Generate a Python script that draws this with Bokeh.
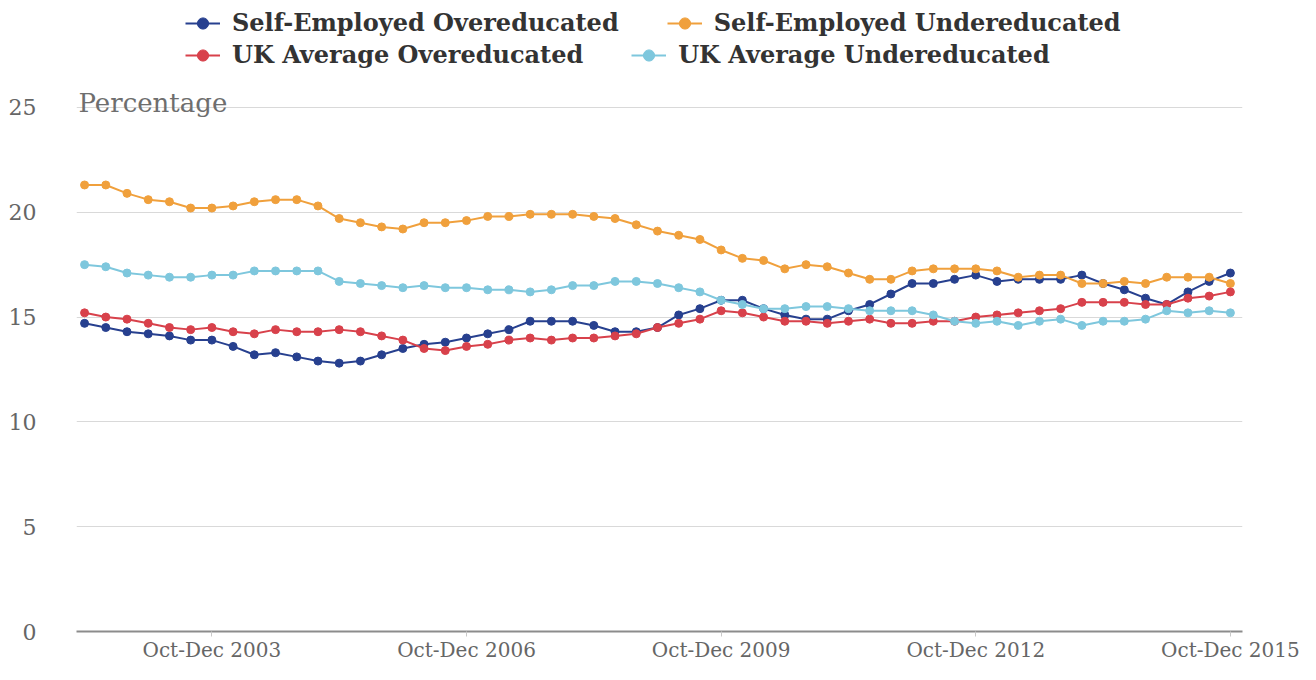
from bokeh.plotting import figure
from bokeh.models import Range1d, FixedTicker, Legend, LegendItem, Label
from bokeh.embed import file_html
from bokeh.resources import INLINE

# ---- data -------------------------------------------------------------
quarters = ["Apr-Jun 2002", "Jul-Sep 2002", "Oct-Dec 2002"] + [
    f"{q} {y}" for y in range(2003, 2016) for q in ["Jan-Mar", "Apr-Jun", "Jul-Sep", "Oct-Dec"]
]
tick_labels = ["Oct-Dec 2003", "Oct-Dec 2006", "Oct-Dec 2009", "Oct-Dec 2012", "Oct-Dec 2015"]
y_ticks = [0, 5, 10, 15, 20, 25]

se_over = [14.7, 14.5, 14.3, 14.2, 14.1, 13.9, 13.9, 13.6, 13.2, 13.3,
           13.1, 12.9, 12.8, 12.9, 13.2, 13.5, 13.7, 13.8, 14.0, 14.2,
           14.4, 14.8, 14.8, 14.8, 14.6, 14.3, 14.3, 14.5, 15.1, 15.4,
           15.8, 15.8, 15.4, 15.1, 14.9, 14.9, 15.3, 15.6, 16.1, 16.6,
           16.6, 16.8, 17.0, 16.7, 16.8, 16.8, 16.8, 17.0, 16.6, 16.3,
           15.9, 15.6, 16.2, 16.7, 17.1]
se_under = [21.3, 21.3, 20.9, 20.6, 20.5, 20.2, 20.2, 20.3, 20.5, 20.6,
            20.6, 20.3, 19.7, 19.5, 19.3, 19.2, 19.5, 19.5, 19.6, 19.8,
            19.8, 19.9, 19.9, 19.9, 19.8, 19.7, 19.4, 19.1, 18.9, 18.7,
            18.2, 17.8, 17.7, 17.3, 17.5, 17.4, 17.1, 16.8, 16.8, 17.2,
            17.3, 17.3, 17.3, 17.2, 16.9, 17.0, 17.0, 16.6, 16.6, 16.7,
            16.6, 16.9, 16.9, 16.9, 16.6]
uk_over = [15.2, 15.0, 14.9, 14.7, 14.5, 14.4, 14.5, 14.3, 14.2, 14.4,
           14.3, 14.3, 14.4, 14.3, 14.1, 13.9, 13.5, 13.4, 13.6, 13.7,
           13.9, 14.0, 13.9, 14.0, 14.0, 14.1, 14.2, 14.5, 14.7, 14.9,
           15.3, 15.2, 15.0, 14.8, 14.8, 14.7, 14.8, 14.9, 14.7, 14.7,
           14.8, 14.8, 15.0, 15.1, 15.2, 15.3, 15.4, 15.7, 15.7, 15.7,
           15.6, 15.6, 15.9, 16.0, 16.2]
uk_under = [17.5, 17.4, 17.1, 17.0, 16.9, 16.9, 17.0, 17.0, 17.2, 17.2,
            17.2, 17.2, 16.7, 16.6, 16.5, 16.4, 16.5, 16.4, 16.4, 16.3,
            16.3, 16.2, 16.3, 16.5, 16.5, 16.7, 16.7, 16.6, 16.4, 16.2,
            15.8, 15.6, 15.4, 15.4, 15.5, 15.5, 15.4, 15.3, 15.3, 15.3,
            15.1, 14.8, 14.7, 14.8, 14.6, 14.8, 14.9, 14.6, 14.8, 14.8,
            14.9, 15.3, 15.2, 15.3, 15.2]

series_names = ["Self-Employed Overeducated", "Self-Employed Undereducated",
                "UK Average Overeducated", "UK Average Undereducated"]
series_values = [se_over, se_under, uk_over, uk_under]
series_colors = ["#27408f", "#f0a03c", "#d8414b", "#7ec7dd"]

x = list(range(len(quarters)))
tick_pos = [quarters.index(t) for t in tick_labels]

# ---- figure -----------------------------------------------------------
p = figure(width=1300, height=664, output_backend="svg", toolbar_location=None,
           x_range=Range1d(-0.38, 54.57), y_range=Range1d(0, 30.1),
           min_border_left=76, min_border_right=58, min_border_top=0,
           min_border_bottom=30)
p.outline_line_color = None
p.background_fill_color = "white"
p.border_fill_color = "white"

p.xgrid.grid_line_color = None
p.ygrid.ticker = FixedTicker(ticks=y_ticks)
p.ygrid.grid_line_color = "#d9d9d9"
p.ygrid.grid_line_width = 1

tick_font = "DejaVu Serif"
p.yaxis.ticker = FixedTicker(ticks=y_ticks)
p.yaxis.axis_line_color = None
p.yaxis.major_tick_line_color = None
p.yaxis.minor_tick_line_color = None
p.yaxis.major_label_standoff = 34
p.yaxis.major_label_text_font = tick_font
p.yaxis.major_label_text_font_size = "22px"
p.yaxis.major_label_text_color = "#666666"

p.xaxis.ticker = FixedTicker(ticks=tick_pos)
p.xaxis.major_label_overrides = {pos: lab for pos, lab in zip(tick_pos, tick_labels)}
p.xaxis.axis_line_color = "#8c8c8c"
p.xaxis.axis_line_width = 2
p.xaxis.major_tick_line_color = "#c8c8c8"
p.xaxis.major_tick_out = 5
p.xaxis.major_tick_in = 0
p.xaxis.minor_tick_line_color = None
p.xaxis.major_label_standoff = 1
p.xaxis.major_label_text_font = tick_font
p.xaxis.major_label_text_font_size = "20px"
p.xaxis.major_label_text_color = "#666666"

items = []
for name, vals, col in zip(series_names, series_values, series_colors):
    ln = p.line(x, vals, line_color=col, line_width=2)
    sc = p.scatter(x, vals, size=8, fill_color=col, line_color=col)
    items.append(LegendItem(label=name, renderers=[ln, sc]))

common = dict(orientation="horizontal", padding=0, margin=0, spacing=48,
              glyph_width=35, glyph_height=28, label_height=28, label_standoff=12,
              label_text_font="DejaVu Serif", label_text_font_style="bold",
              label_text_font_size="24px", label_text_color="#333333",
              border_line_color=None, background_fill_alpha=0)
leg1 = Legend(items=items[:2], location=(109, 594), **common)
leg2 = Legend(items=items[2:], location=(109, 562), **common)
p.add_layout(leg1)
p.add_layout(leg2)

p.add_layout(Label(x=-0.38, y=25, x_offset=2, y_offset=4, text="Percentage",
                   text_font="DejaVu Serif", text_font_size="26px",
                   text_color="#6e6e6e", text_baseline="alphabetic"))

open("out.html", "w").write(file_html(p, INLINE))
